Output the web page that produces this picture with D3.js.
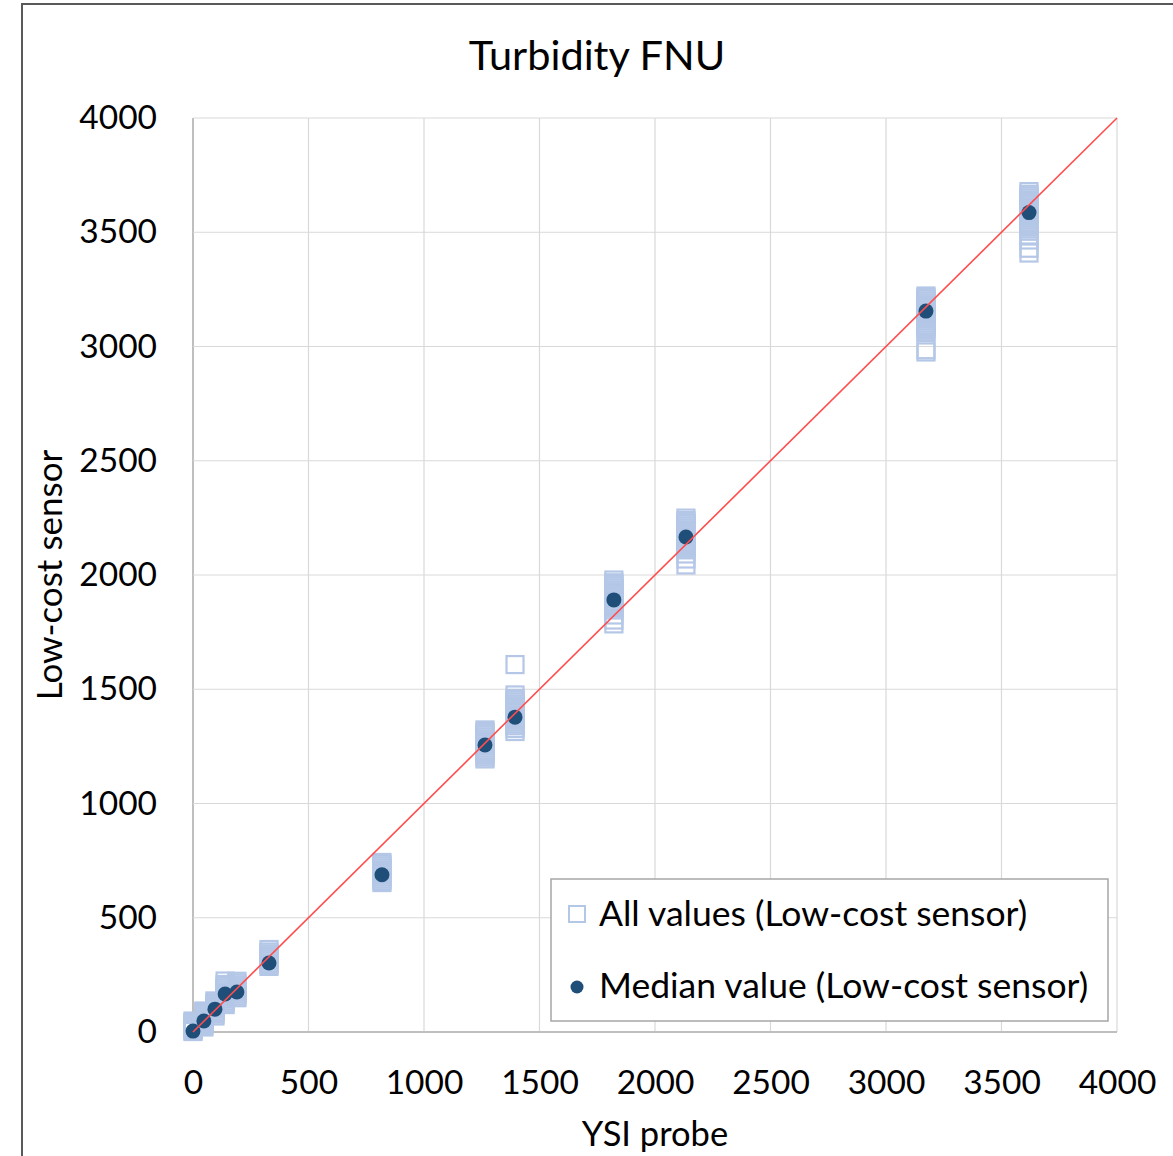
<!DOCTYPE html>
<html lang="en">
<head>
<meta charset="UTF-8">
<title>Turbidity FNU</title>
<script src="https://d3js.org/d3.v7.min.js"></script>
<style>
  body { margin: 0; background: #ffffff; }
  text { font-family: Lato, "Open Sans", sans-serif; fill: #000; }
</style>
</head>
<body>
<div id="chart"></div>
<script>

// YSI probe reading for each sample (x)
var ysiProbe = [0, 47, 95, 139, 190, 329, 818, 1264, 1394, 1822, 2134, 3173, 3619];

// median of the low-cost sensor readings for each sample
var medianSensor = [4, 48, 100, 166, 175, 302, 688, 1256, 1378, 1891, 2166, 3155, 3586];

// all low-cost sensor readings, one row per sample (same order as ysiProbe)
var allSensor = [
  [2, 6, 10, 15, 20, 25, 30, 36, 42, 48],
  [22, 28, 34, 40, 46, 52, 58, 65, 72, 80, 86, 92],
  [70, 78, 85, 92, 100, 107, 114, 121, 128, 136],
  [120, 128, 136, 144, 152, 160, 168, 176, 184, 192, 200, 208, 223],
  [150, 158, 166, 174, 182, 190, 198, 206, 214, 222],
  [287, 295, 302, 310, 318, 326, 334, 342, 350, 361],
  [654, 662, 670, 678, 686, 694, 702, 710, 718, 726, 734, 742],
  [1195, 1203, 1211, 1219, 1227, 1235, 1243, 1251, 1259, 1267, 1275, 1283, 1291, 1299, 1307, 1315, 1322],
  [1315, 1328, 1340, 1348, 1356, 1364, 1372, 1380, 1388, 1396, 1404, 1412, 1420, 1428, 1436, 1444, 1452, 1460, 1475, 1608],
  [1786, 1803, 1825, 1847, 1855, 1863, 1871, 1879, 1887, 1895, 1903, 1911, 1919, 1927, 1935, 1943, 1951, 1959, 1966, 1978],
  [2044, 2070, 2092, 2110, 2118, 2126, 2134, 2142, 2150, 2158, 2166, 2174, 2182, 2190, 2198, 2206, 2214, 2222, 2230, 2238, 2249],
  [2976, 2986, 3063, 3071, 3079, 3087, 3095, 3103, 3111, 3119, 3127, 3135, 3143, 3151, 3159, 3167, 3175, 3183, 3191, 3199, 3207, 3214, 3221],
  [3409, 3430, 3466, 3488, 3514, 3522, 3530, 3538, 3546, 3554, 3562, 3570, 3578, 3586, 3594, 3602, 3610, 3618, 3626, 3634, 3642, 3650, 3658, 3666, 3678]
];

var axisTicks = [0, 500, 1000, 1500, 2000, 2500, 3000, 3500, 4000];

var legendLabels = ["All values (Low-cost sensor)", "Median value (Low-cost sensor)"];

// dimensions
var W = 1173, H = 1156;
var margin = {top: 118, right: 56, bottom: 124, left: 193},
    width = W - margin.left - margin.right,
    height = H - margin.top - margin.bottom;

var svg = d3.select("#chart")
  .append("svg")
    .attr("width", W)
    .attr("height", H);

// outer chart frame (right/bottom edges fall outside the picture)
svg.append("rect")
  .attr("x", 22).attr("y", 4)
  .attr("width", W).attr("height", H)
  .attr("fill", "#fff")
  .attr("stroke", "#595959")
  .attr("stroke-width", 2);

var g = svg.append("g")
  .attr("transform", "translate(" + margin.left + "," + margin.top + ")");

var x = d3.scaleLinear().domain([0, 4000]).range([0, width]);
var y = d3.scaleLinear().domain([0, 4000]).range([height, 0]);

// gridlines
g.append("g").selectAll("line.v")
  .data(axisTicks)
  .join("line")
    .attr("x1", d => x(d)).attr("x2", d => x(d))
    .attr("y1", 0).attr("y2", height)
    .attr("stroke", d => d === 0 ? "#bfbfbf" : "#d9d9d9")
    .attr("stroke-width", d => d === 0 ? 2 : 1.2);
g.append("g").selectAll("line.h")
  .data(axisTicks)
  .join("line")
    .attr("x1", 0).attr("x2", width)
    .attr("y1", d => y(d)).attr("y2", d => y(d))
    .attr("stroke", d => d === 0 ? "#bfbfbf" : "#d9d9d9")
    .attr("stroke-width", d => d === 0 ? 2 : 1.2);

// axes (labels only)
var yAxis = g.append("g")
  .call(d3.axisLeft(y).tickValues(axisTicks).tickSize(0).tickPadding(36).tickFormat(d3.format("d")));
yAxis.select(".domain").remove();
yAxis.selectAll("text").attr("font-size", 33.5).attr("font-family", "Lato, sans-serif").attr("fill", "#000");

var xAxis = g.append("g")
  .attr("transform", "translate(0," + height + ")")
  .call(d3.axisBottom(x).tickValues(axisTicks).tickSize(0).tickPadding(38).tickFormat(d3.format("d")));
xAxis.select(".domain").remove();
xAxis.selectAll("text").attr("font-size", 33.5).attr("font-family", "Lato, sans-serif").attr("fill", "#000");

// all values: hollow squares
var sq = 17;
var points = [];
allSensor.forEach(function(row, i) {
  row.forEach(function(v) { points.push({x: ysiProbe[i], y: v}); });
});
g.append("g").selectAll("rect")
  .data(points)
  .join("rect")
    .attr("x", d => x(d.x) - sq / 2)
    .attr("y", d => y(d.y) - sq / 2)
    .attr("width", sq).attr("height", sq)
    .attr("fill", "none")
    .attr("stroke", "#b4c7e7")
    .attr("stroke-width", 2.2);

// median dots
g.append("g").selectAll("circle")
  .data(ysiProbe)
  .join("circle")
    .attr("cx", d => x(d))
    .attr("cy", (d, i) => y(medianSensor[i]))
    .attr("r", 7.5)
    .attr("fill", "#1f4e79");

// 1:1 line
g.append("line")
  .attr("x1", x(0)).attr("y1", y(0))
  .attr("x2", x(4000)).attr("y2", y(4000))
  .attr("stroke", "#ff4d4d")
  .attr("stroke-width", 1.6);

// title
svg.append("text")
  .attr("x", 597).attr("y", 70)
  .attr("text-anchor", "middle")
  .attr("font-size", 41.5)
  .text("Turbidity FNU");

// axis titles
svg.append("text")
  .attr("x", margin.left + width / 2).attr("y", 1146)
  .attr("text-anchor", "middle")
  .attr("font-size", 34.5)
  .text("YSI probe");

svg.append("text")
  .attr("transform", "translate(62," + (margin.top + height / 2) + ") rotate(-90)")
  .attr("text-anchor", "middle")
  .attr("font-size", 35)
  .text("Low-cost sensor");

// legend
var lg = svg.append("g").attr("transform", "translate(551,879)");
lg.append("rect")
  .attr("width", 557).attr("height", 142)
  .attr("fill", "#fff")
  .attr("stroke", "#a6a6a6")
  .attr("stroke-width", 1.5);
lg.append("rect")
  .attr("x", 18).attr("y", 27).attr("width", 16).attr("height", 16)
  .attr("fill", "none").attr("stroke", "#b4c7e7").attr("stroke-width", 2);
lg.append("circle")
  .attr("cx", 26).attr("cy", 108).attr("r", 6.5)
  .attr("fill", "#1f4e79");
lg.selectAll("text.lab")
  .data(legendLabels)
  .join("text")
    .attr("x", 48)
    .attr("y", (d, i) => 35 + i * 72)
    .attr("dy", "0.35em")
    .attr("font-size", 35.5)
    .text(d => d);

</script>
</body>
</html>
